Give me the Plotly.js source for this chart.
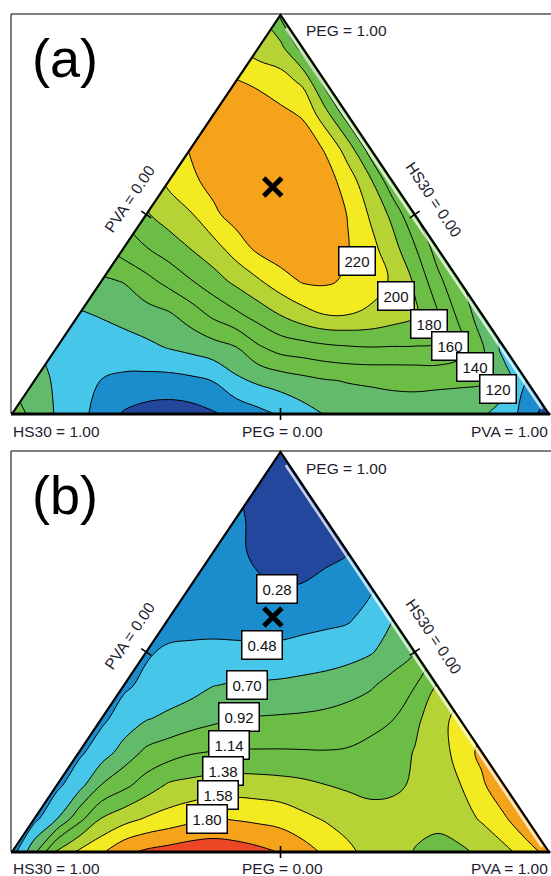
<!DOCTYPE html>
<html><head><meta charset="utf-8">
<script src="https://cdn.plot.ly/plotly-3.0.1.min.js"></script>
<style>html,body{margin:0;padding:0;background:#fff;} #chart{width:551px;height:876px;}</style>
</head><body><div id="chart"></div>
<script>
// ---------------- data ----------------
// Row k => PEG = k/12 ; entry i => PVA = i/24 ; HS30 = 1 - PEG - PVA
const pegSteps = 12;

// Panel (a) response values
const tensileRows = [
  [132, 113, 98, 86, 72, 58, 52, 50, 52, 58, 66, 74, 82, 92, 101, 107, 111, 114, 114, 112, 109, 103, 90, 73, 45],
  [108, 97, 88, 79.5, 76, 74, 73, 75.5, 80.5, 95.5, 103.5, 109, 114, 118.5, 121, 122, 122.5, 123, 123, 123, 122.5, 110, 80],
  [90, 89, 89, 91, 95.5, 101, 106, 112, 119, 137, 148, 151.5, 155.5, 158, 159.5, 159, 159, 159.5, 149.4, 122.6, 93],
  [98, 101.7, 107, 112, 117.5, 129.6, 144.8, 156.3, 168.6, 181, 192.5, 200.5, 200.5, 196.7, 189.9, 183.1, 162.7, 134.5, 109],
  [117, 121, 134, 146.4, 158.9, 171.7, 184.6, 197.6, 211.6, 222, 223, 217.3, 208.2, 197.9, 177.6, 146.5, 122],
  [150.5, 159.5, 170, 181, 192.5, 209.7, 225, 232, 235, 231, 221, 206.7, 187.8, 161.7, 131],
  [178, 189, 198.5, 216, 228, 236, 239, 237, 230, 219.5, 198, 175, 141],
  [204, 216, 226, 234, 240, 241, 237, 229, 211.4, 184.2, 146],
  [222, 229, 235, 238, 237, 231, 218, 190, 150],
  [225, 229, 229, 225, 218, 188, 150],
  [221, 217, 208.6, 196, 152],
  [190, 186, 152],
  [158]
];

// Panel (b) response values
const elongationRows = [
  [0.38, 0.87, 1.41, 1.62, 1.77, 1.97, 2.06, 2.11, 2.16, 2.17, 2.14, 2.08, 2.01, 1.90, 1.76, 1.63, 1.51, 1.42, 1.355, 1.31, 1.32, 1.40, 1.52, 1.67, 1.90],
  [0.42, 0.69, 1.07, 1.37, 1.495, 1.60, 1.67, 1.74, 1.80, 1.78, 1.75, 1.716, 1.63, 1.56, 1.493, 1.43, 1.42, 1.39, 1.40, 1.48, 1.607, 1.76, 2.025],
  [0.43, 0.62, 0.93, 1.085, 1.244, 1.39, 1.43, 1.46, 1.47, 1.46, 1.44, 1.41, 1.365, 1.33, 1.31, 1.33, 1.38, 1.486, 1.57, 1.75, 2.025],
  [0.44, 0.585, 0.787, 0.965, 1.04, 1.117, 1.15, 1.16, 1.16, 1.16, 1.155, 1.15, 1.16, 1.20, 1.27, 1.37, 1.484, 1.648, 1.87],
  [0.44, 0.562, 0.685, 0.75, 0.81, 0.87, 0.918, 0.935, 0.945, 0.955, 0.975, 1.01, 1.07, 1.13, 1.31, 1.477, 1.66],
  [0.45, 0.519, 0.56, 0.62, 0.695, 0.72, 0.73, 0.74, 0.76, 0.785, 0.83, 0.89, 1.003, 1.13, 1.37],
  [0.46, 0.508, 0.523, 0.531, 0.529, 0.52, 0.532, 0.561, 0.587, 0.62, 0.68, 0.79, 0.915],
  [0.40, 0.40, 0.40, 0.39, 0.398, 0.383, 0.404, 0.427, 0.453, 0.557, 0.695],
  [0.37, 0.35, 0.32, 0.28, 0.255, 0.265, 0.302, 0.343, 0.44],
  [0.33, 0.29, 0.23, 0.20, 0.20, 0.22, 0.25],
  [0.29, 0.22, 0.18, 0.18, 0.21],
  [0.22, 0.16, 0.17],
  [0.10]
];

const tensileLevels = {start: 60, end: 220, size: 20};
const elongationLevels = {start: 0.26, end: 2.02, size: 0.22};
const tensileLabelText = ['220', '200', '180', '160', '140', '120'];
const elongationLabelText = ['0.28', '0.48', '0.70', '0.92', '1.14', '1.38', '1.58', '1.80'];
const optimumA = {PEG: 0.569, PVA: 0.201, HS30: 0.230};
const optimumB = {PEG: 0.5875, PVA: 0.192, HS30: 0.2205};
const panelTags = ['(a)', '(b)'];
const vertexLabels = ['PEG = 1.00', 'HS30 = 1.00', 'PVA = 1.00'];
const edgeLabels = ['PVA = 0.00', 'HS30 = 0.00', 'PEG = 0.00'];

// ---------------- styles / layout ----------------
const C = {
  darkBlue: '#22479d', blue: '#1b8dcd', lightBlue: '#46c6e9', medGreen: '#62bb6b',
  green: '#6bbd46', yellowGreen: '#b6d335', yellow: '#f4ea22', orange: '#f6a31c', red: '#ec4625'
};
const bandColorsA = [C.darkBlue, C.blue, C.lightBlue, C.medGreen, C.green, C.green, C.green, C.yellowGreen, C.yellow, C.orange];
const bandColorsB = [C.darkBlue, C.blue, C.lightBlue, C.medGreen, C.green, C.green, C.yellowGreen, C.yellow, C.orange, C.red];

const W = 551, H = 876;
const N = pegSteps;
const panels = [
  {x0: 12, x1: 549, yb: 414, yt: 15, xa: 'x', ya: 'y'},
  {x0: 12, x1: 549, yb: 852, yt: 452, xa: 'x2', ya: 'y2'}
];
const labelPosA = [[357, 261], [395.5, 296], [429, 324], [450, 346], [475, 367], [498, 389]];
const labelPosB = [[276.5, 588.5], [261.5, 645], [247, 685], [239, 717], [229, 745], [222.5, 770.5], [217.5, 795], [207, 819]];

const FONT = 'Liberation Sans, Arial, sans-serif';
const px2 = (v) => v / W;
const py2 = (v) => 1 - v / H;
function toPx(p, X, Y) { // X in [0, 2N], Y in [0, N]
  return [p.x0 + (p.x1 - p.x0) * X / (2 * N), p.yb - (p.yb - p.yt) * Y / N];
}

function grid(rows) {
  const x = [], y = [], z = [];
  rows.forEach((row, k) => row.forEach((v, i) => { x.push(k + i); y.push(k); z.push(v); }));
  return {x, y, z};
}

function contourTrace(rows, lv, colors, xa, ya) {
  const g = grid(rows);
  return {
    type: 'contour', x: g.x, y: g.y, z: g.z, xaxis: xa, yaxis: ya,
    autocontour: false, connectgaps: true,
    contours: {start: lv.start, end: lv.end, size: lv.size, coloring: 'fill', showlines: true},
    colorscale: colors.map((c, i) => [i / (colors.length - 1), c]),
    line: {color: '#000', width: 1, smoothing: 1.1},
    showscale: false, hoverinfo: 'skip'
  };
}

function optimumTrace(o, xa, ya) {
  return {
    type: 'scatter', mode: 'markers', xaxis: xa, yaxis: ya,
    x: [2 * N * (o.PVA + o.PEG / 2)], y: [N * o.PEG],
    marker: {symbol: 'x-thin', size: 18, color: '#000', line: {color: '#000', width: 5}},
    hoverinfo: 'skip', showlegend: false
  };
}

const data = [
  contourTrace(tensileRows, tensileLevels, bandColorsA, 'x', 'y'),
  contourTrace(elongationRows, elongationLevels, bandColorsB, 'x2', 'y2'),
  optimumTrace(optimumA, 'x', 'y'),
  optimumTrace(optimumB, 'x2', 'y2')
];

const shapes = [];
const annotations = [];

panels.forEach((p, pi) => {
  // white masks outside triangle (data coords)
  shapes.push({type: 'path', xref: p.xa, yref: p.ya, path: `M -1,-0.2 L 0,0 L ${N},${N} L -1,${N + 1} Z`, fillcolor: '#fff', line: {width: 0}, layer: 'above'});
  shapes.push({type: 'path', xref: p.xa, yref: p.ya, path: `M ${2 * N + 1},-0.2 L ${2 * N},0 L ${N},${N} L ${2 * N + 1},${N + 1} Z`, fillcolor: '#fff', line: {width: 0}, layer: 'above'});
  const A = toPx(p, 0, 0), B = toPx(p, 2 * N, 0), T = toPx(p, N, N);
  // thin pale strip just inside the right edge (raster artefact in the original)
  const dr = [B[0] - T[0], B[1] - T[1]], lr = Math.hypot(dr[0], dr[1]);
  const nr = [-dr[1] / lr, dr[0] / lr];
  const s0 = [T[0] + dr[0] / lr * 14 + 3 * nr[0], T[1] + dr[1] / lr * 14 + 3 * nr[1]];
  const s1 = [B[0] - dr[0] / lr * 8 + 3 * nr[0], B[1] - dr[1] / lr * 8 + 3 * nr[1]];
  shapes.push({type: 'line', xref: 'paper', yref: 'paper', x0: px2(s0[0]), y0: py2(s0[1]), x1: px2(s1[0]), y1: py2(s1[1]),
    line: {color: 'rgba(255,255,255,0.75)', width: 2.5}, layer: 'above'});
  // frame
  shapes.push({type: 'rect', xref: 'paper', yref: 'paper', x0: px2(p.x0 - 1), x1: 1.2, y0: py2(p.yb), y1: py2(p.yt - 1), line: {color: '#000', width: 1}, layer: 'above'});
  // triangle outline
  shapes.push({type: 'path', xref: 'paper', yref: 'paper', path: `M ${px2(A[0])},${py2(A[1])} L ${px2(T[0])},${py2(T[1])} L ${px2(B[0])},${py2(B[1])}`, line: {color: '#000', width: 2.2}, layer: 'above'});
  shapes.push({type: 'line', xref: 'paper', yref: 'paper', x0: px2(A[0] - 1), x1: px2(B[0] + 1), y0: py2(A[1]), y1: py2(A[1]), line: {color: '#000', width: 3}, layer: 'above'});
  // ticks at edge midpoints
  const L = toPx(p, N / 2, N / 2), R = toPx(p, 3 * N / 2, N / 2), M = toPx(p, N, 0);
  const dl = [T[0] - A[0], T[1] - A[1]], ll = Math.hypot(dl[0], dl[1]);
  const nl = [-dl[1] / ll, dl[0] / ll];
  const t = 6;
  [[L, nl], [R, nr], [M, [0, 1]]].forEach(([c, nv]) => {
    shapes.push({type: 'line', xref: 'paper', yref: 'paper',
      x0: px2(c[0] - t * nv[0]), y0: py2(c[1] - t * nv[1]), x1: px2(c[0] + t * nv[0]), y1: py2(c[1] + t * nv[1]),
      line: {color: '#000', width: 1.6}, layer: 'above'});
  });

  const off = p.yt - 15;
  const edgeFont = {family: FONT, size: 15.5, color: '#1e1e30'};
  annotations.push({xref: 'paper', yref: 'paper', x: px2(30), y: py2(58 + off), xanchor: 'left', yanchor: 'middle', text: panelTags[pi], showarrow: false, font: {family: FONT, size: 54, color: '#000'}});
  annotations.push({xref: 'paper', yref: 'paper', x: px2(304), y: py2(31 + off), xanchor: 'left', yanchor: 'middle', text: vertexLabels[0], showarrow: false, font: edgeFont});
  annotations.push({xref: 'paper', yref: 'paper', x: px2(11), y: py2(431.5 + off), xanchor: 'left', yanchor: 'middle', text: vertexLabels[1], showarrow: false, font: edgeFont});
  annotations.push({xref: 'paper', yref: 'paper', x: px2(469), y: py2(431.5 + off), xanchor: 'left', yanchor: 'middle', text: vertexLabels[2], showarrow: false, font: edgeFont});
  annotations.push({xref: 'paper', yref: 'paper', x: px2(129), y: py2(199 + off), xanchor: 'center', yanchor: 'middle', text: edgeLabels[0], textangle: -56, showarrow: false, font: edgeFont});
  annotations.push({xref: 'paper', yref: 'paper', x: px2(434), y: py2(199 + off), xanchor: 'center', yanchor: 'middle', text: edgeLabels[1], textangle: 56, showarrow: false, font: edgeFont});
  annotations.push({xref: 'paper', yref: 'paper', x: px2(282.5), y: py2(431.5 + off), xanchor: 'center', yanchor: 'middle', text: edgeLabels[2], showarrow: false, font: edgeFont});

  const texts = pi === 0 ? tensileLabelText : elongationLabelText;
  const pos = pi === 0 ? labelPosA : labelPosB;
  texts.forEach((tx, i) => {
    annotations.push({xref: 'paper', yref: 'paper', x: px2(pos[i][0]), y: py2(pos[i][1]), xanchor: 'center', yanchor: 'middle',
      text: tx, showarrow: false, bgcolor: '#fff', bordercolor: '#000', borderwidth: 1.5, borderpad: 5,
      font: {family: FONT, size: 15, color: '#111'}});
  });
});

function axis(dom, range, anchor) {
  return {domain: dom, range: range, anchor: anchor, visible: false, showgrid: false, zeroline: false, fixedrange: true};
}

const layout = {
  width: W, height: H, margin: {l: 0, r: 0, t: 0, b: 0},
  paper_bgcolor: '#fff', plot_bgcolor: '#fff', showlegend: false,
  xaxis: axis([px2(panels[0].x0), px2(panels[0].x1)], [0, 2 * N], 'y'),
  yaxis: axis([py2(panels[0].yb), py2(panels[0].yt)], [0, N], 'x'),
  xaxis2: axis([px2(panels[1].x0), px2(panels[1].x1)], [0, 2 * N], 'y2'),
  yaxis2: axis([py2(panels[1].yb), py2(panels[1].yt)], [0, N], 'x2'),
  shapes: shapes, annotations: annotations
};

Plotly.newPlot('chart', data, layout, {staticPlot: true, displayModeBar: false});
</script>
</body></html>
